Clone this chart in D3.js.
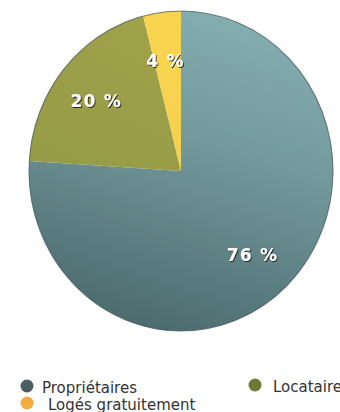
<!DOCTYPE html>
<html><head><meta charset="utf-8">
<script src="https://cdn.jsdelivr.net/npm/d3@7"></script>
<style>
html,body{margin:0;padding:0;background:#fff;}
svg{display:block;}
</style>
</head><body>
<svg id="c" width="340" height="412"></svg>
<script>
const categories = ["Propriétaires", "Locataires", "Logés gratuitement"];
const values = [76, 20, 4];
const labels = ["76 %", "20 %", "4 %"];
const legendColors = ["#4c5e62", "#6c7a33", "#f3ad3f"];

const svg = d3.select("#c");
const defs = svg.append("defs");

const grads = [
  {id:"g0", x1:65, y1:0, x2:35, y2:100, stops:[["0%","#84aeb0"],["40%","#73999c"],["100%","#4b6a6e"]]},
  {id:"g1", x1:60, y1:0, x2:10, y2:100, stops:[["0%","#a2a24b"],["100%","#8e9744"]]},
  {id:"g2", x1:0, y1:0, x2:0, y2:100, stops:[["0%","#f8d44e"],["100%","#f2ce55"]]}
];
grads.forEach(g=>{
  const lg = defs.append("linearGradient").attr("id",g.id)
    .attr("gradientUnits","userSpaceOnUse")
    .attr("x1",-160+3.2*g.x1).attr("y1",-160+3.2*g.y1)
    .attr("x2",-160+3.2*g.x2).attr("y2",-160+3.2*g.y2);
  g.stops.forEach(s=>lg.append("stop").attr("offset",s[0]).attr("stop-color",s[1]));
});
const f = defs.append("filter").attr("id","sh").attr("x","-20%").attr("y","-30%").attr("width","140%").attr("height","160%");
f.append("feDropShadow").attr("dx",1).attr("dy",1).attr("stdDeviation",0.6).attr("flood-color","#1a1a1a").attr("flood-opacity",0.9);

const cx = 181, cy = 171, r = 160, sx = 0.95;
const pie = d3.pie().sort(null).value(d=>d);
const arcs = pie(values);
const arc = d3.arc().innerRadius(0).outerRadius(r);
const labelArc = d3.arc().innerRadius(113).outerRadius(113);

const g = svg.append("g").attr("transform",`translate(${cx},${cy}) scale(${sx},1)`);
g.selectAll("path.s").data(arcs).enter().append("path")
  .attr("class","s")
  .attr("d",arc)
  .attr("fill",(d,i)=>`url(#g${i})`)
  .attr("stroke","none");
g.append("circle").attr("r",r).attr("fill","none").attr("stroke","#3e5357").attr("stroke-width",1.2).attr("stroke-opacity",0.7);

svg.append("g").selectAll("text").data(arcs).enter().append("text")
  .attr("x",d=>cx+labelArc.centroid(d)[0]*sx - 2)
  .attr("y",d=>cy+labelArc.centroid(d)[1] + 2)
  .attr("text-anchor","middle").attr("dominant-baseline","central")
  .attr("font-family","DejaVu Sans, Verdana, sans-serif")
  .attr("font-weight","bold").attr("font-size",17)
  .attr("letter-spacing",1.2)
  .attr("fill","#fff").attr("filter","url(#sh)")
  .text((d,i)=>labels[i]);

const legPos = [[27,386,42,393],[255,385,273,392],[27,403,48,410]];
const lg = svg.append("g");
categories.forEach((c,i)=>{
  const p = legPos[i];
  lg.append("circle").attr("cx",p[0]).attr("cy",p[1]).attr("r",6.5).attr("fill",legendColors[i]);
  lg.append("text").attr("x",p[2]).attr("y",p[3])
    .attr("font-family","DejaVu Sans, Verdana, sans-serif").attr("font-size",15)
    .attr("fill","#333").text(c);
});
</script>
</body></html>
